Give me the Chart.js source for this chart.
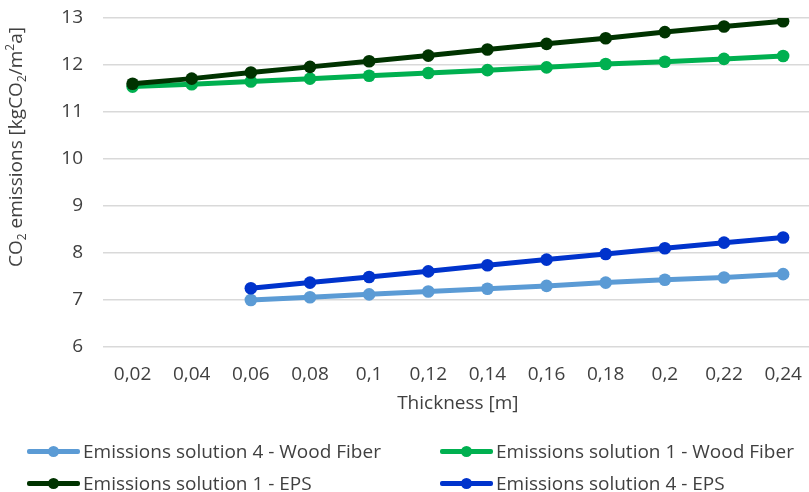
<!DOCTYPE html>
<html>
<head>
<meta charset="utf-8">
<script src="https://cdn.jsdelivr.net/npm/chart.js@4/dist/chart.umd.min.js"></script>
<style>
  html, body { margin:0; padding:0; background:#fff; overflow:hidden; width:809px; height:492px; }
  #wrap { position:absolute; left:0; top:0; width:819px; height:415px; }
  #ytitle { position:absolute; left:15px; top:147px; transform:translate(-50%,-50%) rotate(-90deg);
    white-space:nowrap; font-family:"Open Sans", sans-serif; font-size:19px; color:#404040; line-height:1; }
  #ytitle sub, #ytitle sup { font-size:12px; line-height:0; }
  #legend { position:absolute; left:0; top:0; width:809px; height:492px; pointer-events:none;
    font-family:"Open Sans", sans-serif; font-size:19px; color:#404040; }
  .item { position:absolute; height:26px; display:flex; align-items:center; transform:translateY(-50%); white-space:nowrap; }
  .sym { position:relative; width:53px; height:12px; margin-right:3px; }
  .sym .ln { position:absolute; left:0; top:4px; width:53px; height:5px; border-radius:2px; }
  .sym .dt { position:absolute; left:21px; top:1px; width:11px; height:11px; border-radius:50%; }
</style>
</head>
<body>
<div id="wrap"><canvas id="c" width="819" height="415"></canvas></div>
<div id="ytitle">CO<sub>2</sub> emissions [kgCO<sub>2</sub>/m<sup>2</sup>a]</div>
<div id="legend"></div>
<script>
const categories = ['0,02','0,04','0,06','0,08','0,1','0,12','0,14','0,16','0,18','0,2','0,22','0,24'];
const s4WoodFiber = [null, null, 7.00, 7.06, 7.12, 7.18, 7.24, 7.30, 7.37, 7.43, 7.48, 7.55];
const s1WoodFiber = [11.54, 11.59, 11.65, 11.71, 11.77, 11.83, 11.89, 11.95, 12.02, 12.07, 12.13, 12.19];
const s1EPS = [11.60, 11.71, 11.84, 11.96, 12.08, 12.20, 12.33, 12.45, 12.57, 12.70, 12.82, 12.93];
const s4EPS = [null, null, 7.25, 7.37, 7.49, 7.61, 7.74, 7.86, 7.98, 8.10, 8.22, 8.33];
const yTicks = [6, 7, 8, 9, 10, 11, 12, 13];
const xTitle = 'Thickness [m]';

const names = {
  s4WF: 'Emissions solution 4 - Wood Fiber',
  s1WF: 'Emissions solution 1 - Wood Fiber',
  s1EPS: 'Emissions solution 1 - EPS',
  s4EPS: 'Emissions solution 4 - EPS'
};
const colors = { s4WF:'#5B9BD5', s1WF:'#00B050', s1EPS:'#003300', s4EPS:'#0033CC' };

function ds(key, data) {
  return {
    label: names[key], data: data,
    borderColor: colors[key], backgroundColor: colors[key],
    pointBackgroundColor: colors[key], pointBorderWidth: 0,
    pointRadius: 6.3, borderWidth: 5, tension: 0, spanGaps: false
  };
}

const FONT = { family: '"Open Sans", sans-serif', size: 19 };
Chart.defaults.font.family = FONT.family;

const chart = new Chart(document.getElementById('c'), {
  type: 'line',
  data: {
    labels: categories,
    datasets: [ ds('s1EPS', s1EPS), ds('s1WF', s1WoodFiber), ds('s4EPS', s4EPS), ds('s4WF', s4WoodFiber) ]
  },
  options: {
    responsive: false, animation: false, devicePixelRatio: 1,
    layout: { padding: { top: 18, left: 0, right: 0, bottom: 0 } },
    plugins: { legend: { display: false }, tooltip: { enabled: false } },
    scales: {
      x: {
        type: 'category', offset: true,
        afterFit: (s) => { s.height = 68; },
        grid: { display: false, drawTicks: false },
        border: { display: false },
        ticks: { font: FONT, color: '#404040', padding: 16, maxRotation: 0, autoSkip: false },
        title: { display: true, text: xTitle, font: FONT, color: '#404040', padding: { top: 0, bottom: 0 } }
      },
      y: {
        min: 6, max: 13,
        afterFit: (s) => { s.width = 103; },
        afterBuildTicks: (s) => { s.ticks = yTicks.map(v => ({ value: v })); },
        grid: { color: '#d9d9d9', lineWidth: 1.5, drawTicks: true, tickLength: 20, tickColor: 'rgba(0,0,0,0)' },
        border: { display: false },
        ticks: { font: FONT, color: '#404040', padding: 0 }
      }
    }
  }
});

// HTML legend (two columns, two rows)
const legendLayout = [
  { key:'s4WF', x:27, y:451 }, { key:'s1WF', x:440, y:451 },
  { key:'s1EPS', x:27, y:483 }, { key:'s4EPS', x:440, y:483 }
];
const lg = document.getElementById('legend');
legendLayout.forEach(it => {
  const d = document.createElement('div');
  d.className = 'item';
  d.style.left = it.x + 'px'; d.style.top = it.y + 'px';
  d.innerHTML = '<span class="sym"><span class="ln" style="background:' + colors[it.key] + '"></span>' +
    '<span class="dt" style="background:' + colors[it.key] + '"></span></span><span>' + names[it.key] + '</span>';
  lg.appendChild(d);
});
</script>
</body>
</html>
